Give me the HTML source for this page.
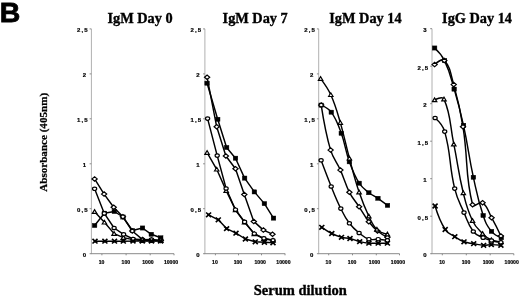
<!DOCTYPE html>
<html><head><meta charset="utf-8"><style>
html,body{margin:0;padding:0;background:#fff;}
body{width:520px;height:296px;overflow:hidden;position:relative;}
svg{position:absolute;left:0;top:0;filter:blur(0.3px);}
.ax{stroke:#8a8a8a;stroke-width:1;fill:none;}
.ay{stroke:#b0b0b0;stroke-width:1;fill:none;}
.ln{stroke:#000;stroke-width:1.45;fill:none;stroke-linejoin:round;}
.mo{stroke:#000;stroke-width:1.2;fill:#fff;}
.mf{fill:#000;stroke:#000;stroke-width:0.4;}
.mx{stroke:#000;stroke-width:1.65;fill:none;}
.yl{font:bold 6px "Liberation Sans",sans-serif;fill:#000;stroke:#000;stroke-width:0.2px;}
.xl{font:bold 5.1px "Liberation Sans",sans-serif;text-anchor:middle;fill:#000;stroke:#000;stroke-width:0.2px;}
.tt{font:bold 14.3px "Liberation Serif",serif;fill:#000;stroke:#000;stroke-width:0.35px;}
</style></head><body>
<svg width="520" height="296" viewBox="0 0 520 296">
<text x="-0.2" y="21.8" style="font:bold 28.5px 'Liberation Sans',sans-serif;fill:#000;stroke:#000;stroke-width:0.8px">B</text>
<text class="tt" x="107.5" y="22.5">IgM Day 0</text>
<text class="tt" x="222.6" y="22.5">IgM Day 7</text>
<text class="tt" x="329.3" y="22.5">IgM Day 14</text>
<text class="tt" x="442.1" y="22.5">IgG Day 14</text>
<text transform="translate(47.4,191.8) rotate(-90)" style="font:bold 11.1px 'Liberation Serif',serif;fill:#000;stroke:#000;stroke-width:0.25px">Absorbance (405nm)</text>
<text x="253.8" y="294.9" style="font:bold 14.5px 'Liberation Serif',serif;fill:#000;stroke:#000;stroke-width:0.35px">Serum dilution</text>
<path class="ay" d="M91.4,28.9 L91.4,253.7"/>
<path class="ax" d="M90.9,253.7 L174.0,253.7"/>
<path class="ax" d="M89.6,28.9 L91.4,28.9"/>
<text class="yl" x="76.90 81.40 84.20" y="32.3">2,5</text>
<path class="ax" d="M89.6,73.9 L91.4,73.9"/>
<text class="yl" x="82.70" y="77.3">2</text>
<path class="ax" d="M89.6,118.8 L91.4,118.8"/>
<text class="yl" x="76.90 81.40 84.20" y="122.2">1,5</text>
<path class="ax" d="M89.6,163.8 L91.4,163.8"/>
<text class="yl" x="82.70" y="167.2">1</text>
<path class="ax" d="M89.6,208.7 L91.4,208.7"/>
<text class="yl" x="76.90 81.40 84.20" y="212.1">0,5</text>
<path class="ax" d="M89.6,253.7 L91.4,253.7"/>
<text class="yl" x="82.70" y="257.1">0</text>
<path class="ax" d="M101.9,253.7 L101.9,255.3"/>
<text class="xl" x="101.5" y="263.7">10</text>
<path class="ax" d="M126.1,253.7 L126.1,255.3"/>
<text class="xl" x="125.8" y="263.7">100</text>
<path class="ax" d="M150.2,253.7 L150.2,255.3"/>
<text class="xl" x="147.9" y="263.7">1000</text>
<path class="ax" d="M174.0,253.7 L174.0,255.3"/>
<text class="xl" x="171.0" y="263.7">10000</text>
<path class="ln" d="M94.6,225.5 L104.4,213.2 L114.3,211.5 L123.0,217.0 L132.4,230.5 L142.5,228.0 L151.3,234.3 L160.7,237.8"/>
<path class="ln" d="M94.6,178.9 L104.1,194.1 L113.7,207.2 L122.9,216.8 L132.3,231.0 L142.6,239.6 L151.5,240.0 L160.8,240.6"/>
<path class="ln" d="M94.6,211.7 L104.4,222.3 L114.1,233.6 L123.4,237.6 L132.8,239.6 L142.4,240.6 L151.5,240.8 L160.8,240.8"/>
<path class="ln" d="M94.6,188.8 L104.3,213.4 L114.1,228.0 L123.6,234.4 L133.2,239.0 L142.5,239.8 L151.5,239.5 L160.8,240.5"/>
<path class="ln" d="M95.0,241.2 L104.9,241.2 L114.5,241.2 L123.3,241.2 L133.0,241.1 L142.3,241.0 L151.5,241.0 L160.6,241.0"/>
<rect class="mf" x="92.3" y="223.4" width="4.6" height="4.2"/>
<rect class="mf" x="102.1" y="211.1" width="4.6" height="4.2"/>
<rect class="mf" x="112.0" y="209.4" width="4.6" height="4.2"/>
<rect class="mf" x="120.7" y="214.9" width="4.6" height="4.2"/>
<rect class="mf" x="130.1" y="228.4" width="4.6" height="4.2"/>
<rect class="mf" x="140.2" y="225.9" width="4.6" height="4.2"/>
<rect class="mf" x="149.0" y="232.2" width="4.6" height="4.2"/>
<rect class="mf" x="158.4" y="235.7" width="4.6" height="4.2"/>
<path class="mo" d="M92.0,178.9 L94.6,176.7 L97.2,178.9 L94.6,181.1 Z"/>
<path class="mo" d="M101.5,194.1 L104.1,191.9 L106.7,194.1 L104.1,196.3 Z"/>
<path class="mo" d="M111.1,207.2 L113.7,205.0 L116.3,207.2 L113.7,209.4 Z"/>
<path class="mo" d="M120.3,216.8 L122.9,214.6 L125.5,216.8 L122.9,219.0 Z"/>
<path class="mo" d="M129.7,231.0 L132.3,228.8 L134.9,231.0 L132.3,233.2 Z"/>
<path class="mo" d="M140.0,239.6 L142.6,237.4 L145.2,239.6 L142.6,241.8 Z"/>
<path class="mo" d="M148.9,240.0 L151.5,237.8 L154.1,240.0 L151.5,242.2 Z"/>
<path class="mo" d="M158.2,240.6 L160.8,238.4 L163.4,240.6 L160.8,242.8 Z"/>
<path class="mo" d="M92.4,213.4 L94.6,209.7 L96.8,213.4 Z"/>
<path class="mo" d="M102.2,224.0 L104.4,220.3 L106.6,224.0 Z"/>
<path class="mo" d="M111.9,235.3 L114.1,231.6 L116.3,235.3 Z"/>
<path class="mo" d="M121.2,239.3 L123.4,235.6 L125.6,239.3 Z"/>
<path class="mo" d="M130.6,241.3 L132.8,237.6 L135.0,241.3 Z"/>
<path class="mo" d="M140.2,242.3 L142.4,238.6 L144.6,242.3 Z"/>
<path class="mo" d="M149.3,242.5 L151.5,238.8 L153.7,242.5 Z"/>
<path class="mo" d="M158.6,242.5 L160.8,238.8 L163.0,242.5 Z"/>
<ellipse class="mo" cx="94.6" cy="188.8" rx="2.1" ry="1.7"/>
<ellipse class="mo" cx="104.3" cy="213.4" rx="2.1" ry="1.7"/>
<ellipse class="mo" cx="114.1" cy="228.0" rx="2.1" ry="1.7"/>
<ellipse class="mo" cx="123.6" cy="234.4" rx="2.1" ry="1.7"/>
<ellipse class="mo" cx="133.2" cy="239.0" rx="2.1" ry="1.7"/>
<ellipse class="mo" cx="142.5" cy="239.8" rx="2.1" ry="1.7"/>
<ellipse class="mo" cx="151.5" cy="239.5" rx="2.1" ry="1.7"/>
<ellipse class="mo" cx="160.8" cy="240.5" rx="2.1" ry="1.7"/>
<path class="mx" d="M92.5,238.9 L97.5,243.5 M92.5,243.5 L97.5,238.9"/><rect x="93.7" y="240.0" width="2.6" height="2.4"/>
<path class="mx" d="M102.4,238.9 L107.4,243.5 M102.4,243.5 L107.4,238.9"/><rect x="103.6" y="240.0" width="2.6" height="2.4"/>
<path class="mx" d="M112.0,238.9 L117.0,243.5 M112.0,243.5 L117.0,238.9"/><rect x="113.2" y="240.0" width="2.6" height="2.4"/>
<path class="mx" d="M120.8,238.9 L125.8,243.5 M120.8,243.5 L125.8,238.9"/><rect x="122.0" y="240.0" width="2.6" height="2.4"/>
<path class="mx" d="M130.5,238.8 L135.5,243.4 M130.5,243.4 L135.5,238.8"/><rect x="131.7" y="239.9" width="2.6" height="2.4"/>
<path class="mx" d="M139.8,238.7 L144.8,243.3 M139.8,243.3 L144.8,238.7"/><rect x="141.0" y="239.8" width="2.6" height="2.4"/>
<path class="mx" d="M149.0,238.7 L154.0,243.3 M149.0,243.3 L154.0,238.7"/><rect x="150.2" y="239.8" width="2.6" height="2.4"/>
<path class="mx" d="M158.1,238.7 L163.1,243.3 M158.1,243.3 L163.1,238.7"/><rect x="159.3" y="239.8" width="2.6" height="2.4"/>
<path class="ay" d="M204.9,28.9 L204.9,253.7"/>
<path class="ax" d="M204.4,253.7 L285.2,253.7"/>
<path class="ax" d="M203.1,28.9 L204.9,28.9"/>
<text class="yl" x="190.40 194.90 197.70" y="32.3">2,5</text>
<path class="ax" d="M203.1,73.9 L204.9,73.9"/>
<text class="yl" x="196.20" y="77.3">2</text>
<path class="ax" d="M203.1,118.8 L204.9,118.8"/>
<text class="yl" x="190.40 194.90 197.70" y="122.2">1,5</text>
<path class="ax" d="M203.1,163.8 L204.9,163.8"/>
<text class="yl" x="196.20" y="167.2">1</text>
<path class="ax" d="M203.1,208.7 L204.9,208.7"/>
<text class="yl" x="190.40 194.90 197.70" y="212.1">0,5</text>
<path class="ax" d="M203.1,253.7 L204.9,253.7"/>
<text class="yl" x="196.20" y="257.1">0</text>
<path class="ax" d="M215.4,253.7 L215.4,255.3"/>
<text class="xl" x="214.9" y="263.7">10</text>
<path class="ax" d="M238.5,253.7 L238.5,255.3"/>
<text class="xl" x="237.9" y="263.7">100</text>
<path class="ax" d="M261.5,253.7 L261.5,255.3"/>
<text class="xl" x="260.2" y="263.7">1000</text>
<path class="ax" d="M285.0,253.7 L285.0,255.3"/>
<text class="xl" x="283.4" y="263.7">10000</text>
<path class="ln" d="M207.1,83.2 L217.7,119.3 L226.6,147.5 L235.5,158.2 L244.6,178.1 L254.4,191.9 L264.4,203.6 L273.5,218.1"/>
<path class="ln" d="M207.1,77.3 L216.7,126.8 L225.9,156.0 L235.5,168.8 L244.3,194.4 L253.8,221.4 L263.4,230.1 L272.5,234.2"/>
<path class="ln" d="M207.1,152.6 L216.7,169.3 L226.2,190.6 L235.5,210.0 L244.6,222.2 L254.3,233.9 L263.9,238.8 L273.0,240.4"/>
<path class="ln" d="M207.6,118.6 L217.2,155.6 L226.1,188.5 L235.5,209.7 L244.6,221.9 L254.3,233.7 L263.9,238.3 L273.0,240.3"/>
<path class="ln" d="M208.6,214.8 L218.3,219.8 L226.6,228.6 L236.0,233.2 L245.4,239.0 L255.3,241.8 L264.4,242.3 L273.0,242.8"/>
<rect class="mf" x="204.8" y="81.1" width="4.6" height="4.2"/>
<rect class="mf" x="215.4" y="117.2" width="4.6" height="4.2"/>
<rect class="mf" x="224.3" y="145.4" width="4.6" height="4.2"/>
<rect class="mf" x="233.2" y="156.1" width="4.6" height="4.2"/>
<rect class="mf" x="242.3" y="176.0" width="4.6" height="4.2"/>
<rect class="mf" x="252.1" y="189.8" width="4.6" height="4.2"/>
<rect class="mf" x="262.1" y="201.5" width="4.6" height="4.2"/>
<rect class="mf" x="271.2" y="216.0" width="4.6" height="4.2"/>
<path class="mo" d="M204.5,77.3 L207.1,75.1 L209.7,77.3 L207.1,79.5 Z"/>
<path class="mo" d="M214.1,126.8 L216.7,124.6 L219.3,126.8 L216.7,129.0 Z"/>
<path class="mo" d="M223.3,156.0 L225.9,153.8 L228.5,156.0 L225.9,158.2 Z"/>
<path class="mo" d="M232.9,168.8 L235.5,166.6 L238.1,168.8 L235.5,171.0 Z"/>
<path class="mo" d="M241.7,194.4 L244.3,192.2 L246.9,194.4 L244.3,196.6 Z"/>
<path class="mo" d="M251.2,221.4 L253.8,219.2 L256.4,221.4 L253.8,223.6 Z"/>
<path class="mo" d="M260.8,230.1 L263.4,227.9 L266.0,230.1 L263.4,232.3 Z"/>
<path class="mo" d="M269.9,234.2 L272.5,232.0 L275.1,234.2 L272.5,236.4 Z"/>
<path class="mo" d="M204.9,154.3 L207.1,150.6 L209.3,154.3 Z"/>
<path class="mo" d="M214.5,171.0 L216.7,167.3 L218.9,171.0 Z"/>
<path class="mo" d="M224.0,192.3 L226.2,188.6 L228.4,192.3 Z"/>
<path class="mo" d="M233.3,211.7 L235.5,208.0 L237.7,211.7 Z"/>
<path class="mo" d="M242.4,223.9 L244.6,220.2 L246.8,223.9 Z"/>
<path class="mo" d="M252.1,235.6 L254.3,231.9 L256.5,235.6 Z"/>
<path class="mo" d="M261.7,240.5 L263.9,236.8 L266.1,240.5 Z"/>
<path class="mo" d="M270.8,242.1 L273.0,238.4 L275.2,242.1 Z"/>
<ellipse class="mo" cx="207.6" cy="118.6" rx="2.1" ry="1.7"/>
<ellipse class="mo" cx="217.2" cy="155.6" rx="2.1" ry="1.7"/>
<ellipse class="mo" cx="226.1" cy="188.5" rx="2.1" ry="1.7"/>
<ellipse class="mo" cx="235.5" cy="209.7" rx="2.1" ry="1.7"/>
<ellipse class="mo" cx="244.6" cy="221.9" rx="2.1" ry="1.7"/>
<ellipse class="mo" cx="254.3" cy="233.7" rx="2.1" ry="1.7"/>
<ellipse class="mo" cx="263.9" cy="238.3" rx="2.1" ry="1.7"/>
<ellipse class="mo" cx="273.0" cy="240.3" rx="2.1" ry="1.7"/>
<path class="mx" d="M206.1,212.5 L211.1,217.1 M206.1,217.1 L211.1,212.5"/><rect x="207.3" y="213.6" width="2.6" height="2.4"/>
<path class="mx" d="M215.8,217.5 L220.8,222.1 M215.8,222.1 L220.8,217.5"/><rect x="217.0" y="218.6" width="2.6" height="2.4"/>
<path class="mx" d="M224.1,226.3 L229.1,230.9 M224.1,230.9 L229.1,226.3"/><rect x="225.3" y="227.4" width="2.6" height="2.4"/>
<path class="mx" d="M233.5,230.9 L238.5,235.5 M233.5,235.5 L238.5,230.9"/><rect x="234.7" y="232.0" width="2.6" height="2.4"/>
<path class="mx" d="M242.9,236.7 L247.9,241.3 M242.9,241.3 L247.9,236.7"/><rect x="244.1" y="237.8" width="2.6" height="2.4"/>
<path class="mx" d="M252.8,239.5 L257.8,244.1 M252.8,244.1 L257.8,239.5"/><rect x="254.0" y="240.6" width="2.6" height="2.4"/>
<path class="mx" d="M261.9,240.0 L266.9,244.6 M261.9,244.6 L266.9,240.0"/><rect x="263.1" y="241.1" width="2.6" height="2.4"/>
<path class="mx" d="M270.5,240.5 L275.5,245.1 M270.5,245.1 L275.5,240.5"/><rect x="271.7" y="241.6" width="2.6" height="2.4"/>
<path class="ay" d="M318.7,28.9 L318.7,253.7"/>
<path class="ax" d="M318.2,253.7 L399.5,253.7"/>
<path class="ax" d="M316.9,28.9 L318.7,28.9"/>
<text class="yl" x="304.20 308.70 311.50" y="32.3">2,5</text>
<path class="ax" d="M316.9,73.9 L318.7,73.9"/>
<text class="yl" x="310.00" y="77.3">2</text>
<path class="ax" d="M316.9,118.8 L318.7,118.8"/>
<text class="yl" x="304.20 308.70 311.50" y="122.2">1,5</text>
<path class="ax" d="M316.9,163.8 L318.7,163.8"/>
<text class="yl" x="310.00" y="167.2">1</text>
<path class="ax" d="M316.9,208.7 L318.7,208.7"/>
<text class="yl" x="304.20 308.70 311.50" y="212.1">0,5</text>
<path class="ax" d="M316.9,253.7 L318.7,253.7"/>
<text class="yl" x="310.00" y="257.1">0</text>
<path class="ax" d="M328.7,253.7 L328.7,255.3"/>
<text class="xl" x="328.4" y="263.7">10</text>
<path class="ax" d="M352.5,253.7 L352.5,255.3"/>
<text class="xl" x="352.1" y="263.7">100</text>
<path class="ax" d="M376.3,253.7 L376.3,255.3"/>
<text class="xl" x="374.5" y="263.7">1000</text>
<path class="ax" d="M399.5,253.7 L399.5,255.3"/>
<text class="xl" x="397.9" y="263.7">10000</text>
<path class="ln" d="M321.2,105.1 C321.2,105.1 328.5,108.3 331.3,112.2 C336.6,119.6 338.1,124.6 341.3,133.3 C345.3,144.4 345.4,150.7 349.4,161.8 C352.6,170.6 354.3,175.3 359.2,183.2 C362.0,187.7 364.6,189.3 368.8,192.7 C372.1,195.4 374.4,195.9 377.9,198.3 C381.8,201.0 387.5,205.4 387.5,205.4"/>
<path class="ln" d="M321.2,105.1 C321.2,105.1 325.4,132.6 330.6,150.1 C333.1,158.6 336.8,162.0 340.4,170.1 C344.3,178.8 345.1,183.8 349.4,192.3 C352.6,198.5 355.3,201.0 359.1,206.8 C363.0,212.7 364.5,216.1 368.8,221.7 C371.9,225.7 373.6,227.8 377.5,231.0 C381.1,234.0 387.4,237.3 387.4,237.3"/>
<path class="ln" d="M320.6,78.6 C320.6,78.6 327.7,87.9 330.8,94.8 C335.6,105.5 337.0,111.3 340.3,122.6 C344.4,136.7 345.6,144.1 349.4,158.3 C353.1,171.9 354.6,178.8 359.1,192.1 C362.4,201.9 364.3,206.9 368.8,216.2 C371.5,221.8 372.6,225.3 376.9,229.4 C380.1,232.5 387.4,234.2 387.4,234.2"/>
<path class="ln" d="M321.1,160.3 C321.1,160.3 327.0,176.1 331.2,186.5 C334.8,195.4 336.5,200.0 340.8,208.6 C343.8,214.7 345.3,217.9 349.4,223.3 C352.7,227.7 354.9,229.6 359.1,233.0 C362.7,235.9 364.7,237.8 368.9,239.2 C372.3,240.3 374.5,239.0 378.2,239.2 C381.9,239.4 387.4,240.4 387.4,240.4"/>
<path class="ln" d="M321.8,227.3 C321.8,227.3 327.6,231.4 331.8,233.5 C335.5,235.4 337.5,236.2 341.5,237.3 C344.8,238.2 346.7,237.7 350.0,238.5 C354.0,239.4 355.8,240.6 359.7,241.6 C363.3,242.5 365.2,242.9 368.9,243.2 C372.6,243.5 374.5,243.2 378.2,243.2 C381.9,243.2 387.4,243.2 387.4,243.2"/>
<rect class="mf" x="318.9" y="103.0" width="4.6" height="4.2"/>
<rect class="mf" x="329.0" y="110.1" width="4.6" height="4.2"/>
<rect class="mf" x="339.0" y="131.2" width="4.6" height="4.2"/>
<rect class="mf" x="347.1" y="159.7" width="4.6" height="4.2"/>
<rect class="mf" x="356.9" y="181.1" width="4.6" height="4.2"/>
<rect class="mf" x="366.5" y="190.6" width="4.6" height="4.2"/>
<rect class="mf" x="375.6" y="196.2" width="4.6" height="4.2"/>
<rect class="mf" x="385.2" y="203.3" width="4.6" height="4.2"/>
<path class="mo" d="M318.6,105.1 L321.2,102.9 L323.8,105.1 L321.2,107.3 Z"/>
<path class="mo" d="M328.0,150.1 L330.6,147.9 L333.2,150.1 L330.6,152.3 Z"/>
<path class="mo" d="M337.8,170.1 L340.4,167.9 L343.0,170.1 L340.4,172.3 Z"/>
<path class="mo" d="M346.8,192.3 L349.4,190.1 L352.0,192.3 L349.4,194.5 Z"/>
<path class="mo" d="M356.5,206.8 L359.1,204.6 L361.7,206.8 L359.1,209.0 Z"/>
<path class="mo" d="M366.2,221.7 L368.8,219.5 L371.4,221.7 L368.8,223.9 Z"/>
<path class="mo" d="M374.9,231.0 L377.5,228.8 L380.1,231.0 L377.5,233.2 Z"/>
<path class="mo" d="M384.8,237.3 L387.4,235.1 L390.0,237.3 L387.4,239.5 Z"/>
<path class="mo" d="M318.4,80.3 L320.6,76.6 L322.8,80.3 Z"/>
<path class="mo" d="M328.6,96.5 L330.8,92.8 L333.0,96.5 Z"/>
<path class="mo" d="M338.1,124.3 L340.3,120.6 L342.5,124.3 Z"/>
<path class="mo" d="M347.2,160.0 L349.4,156.3 L351.6,160.0 Z"/>
<path class="mo" d="M356.9,193.8 L359.1,190.1 L361.3,193.8 Z"/>
<path class="mo" d="M366.6,217.9 L368.8,214.2 L371.0,217.9 Z"/>
<path class="mo" d="M374.7,231.1 L376.9,227.4 L379.1,231.1 Z"/>
<path class="mo" d="M385.2,235.9 L387.4,232.2 L389.6,235.9 Z"/>
<ellipse class="mo" cx="321.1" cy="160.3" rx="2.1" ry="1.7"/>
<ellipse class="mo" cx="331.2" cy="186.5" rx="2.1" ry="1.7"/>
<ellipse class="mo" cx="340.8" cy="208.6" rx="2.1" ry="1.7"/>
<ellipse class="mo" cx="349.4" cy="223.3" rx="2.1" ry="1.7"/>
<ellipse class="mo" cx="359.1" cy="233.0" rx="2.1" ry="1.7"/>
<ellipse class="mo" cx="368.9" cy="239.2" rx="2.1" ry="1.7"/>
<ellipse class="mo" cx="378.2" cy="239.2" rx="2.1" ry="1.7"/>
<ellipse class="mo" cx="387.4" cy="240.4" rx="2.1" ry="1.7"/>
<path class="mx" d="M319.3,225.0 L324.3,229.6 M319.3,229.6 L324.3,225.0"/><rect x="320.5" y="226.1" width="2.6" height="2.4"/>
<path class="mx" d="M329.3,231.2 L334.3,235.8 M329.3,235.8 L334.3,231.2"/><rect x="330.5" y="232.3" width="2.6" height="2.4"/>
<path class="mx" d="M339.0,235.0 L344.0,239.6 M339.0,239.6 L344.0,235.0"/><rect x="340.2" y="236.1" width="2.6" height="2.4"/>
<path class="mx" d="M347.5,236.2 L352.5,240.8 M347.5,240.8 L352.5,236.2"/><rect x="348.7" y="237.3" width="2.6" height="2.4"/>
<path class="mx" d="M357.2,239.3 L362.2,243.9 M357.2,243.9 L362.2,239.3"/><rect x="358.4" y="240.4" width="2.6" height="2.4"/>
<path class="mx" d="M366.4,240.9 L371.4,245.5 M366.4,245.5 L371.4,240.9"/><rect x="367.6" y="242.0" width="2.6" height="2.4"/>
<path class="mx" d="M375.7,240.9 L380.7,245.5 M375.7,245.5 L380.7,240.9"/><rect x="376.9" y="242.0" width="2.6" height="2.4"/>
<path class="mx" d="M384.9,240.9 L389.9,245.5 M384.9,245.5 L389.9,240.9"/><rect x="386.1" y="242.0" width="2.6" height="2.4"/>
<path class="ay" d="M432.0,28.7 L432.0,253.7"/>
<path class="ax" d="M431.5,253.7 L513.8,253.7"/>
<path class="ax" d="M430.2,28.7 L432.0,28.7"/>
<text class="yl" x="423.30" y="32.1">3</text>
<path class="ax" d="M430.2,66.2 L432.0,66.2"/>
<text class="yl" x="417.50 422.00 424.80" y="69.6">2,5</text>
<path class="ax" d="M430.2,103.7 L432.0,103.7"/>
<text class="yl" x="423.30" y="107.1">2</text>
<path class="ax" d="M430.2,141.2 L432.0,141.2"/>
<text class="yl" x="417.50 422.00 424.80" y="144.6">1,5</text>
<path class="ax" d="M430.2,178.7 L432.0,178.7"/>
<text class="yl" x="423.30" y="182.1">1</text>
<path class="ax" d="M430.2,216.2 L432.0,216.2"/>
<text class="yl" x="417.50 422.00 424.80" y="219.6">0,5</text>
<path class="ax" d="M430.2,253.7 L432.0,253.7"/>
<text class="yl" x="423.30" y="257.1">0</text>
<path class="ax" d="M442.3,253.7 L442.3,255.3"/>
<text class="xl" x="442.1" y="263.7">10</text>
<path class="ax" d="M466.3,253.7 L466.3,255.3"/>
<text class="xl" x="466.0" y="263.7">100</text>
<path class="ax" d="M490.2,253.7 L490.2,255.3"/>
<text class="xl" x="488.3" y="263.7">1000</text>
<path class="ax" d="M513.8,253.7 L513.8,255.3"/>
<text class="xl" x="511.7" y="263.7">10000</text>
<path class="ln" d="M434.6,48.0 C434.6,48.0 441.4,54.2 444.5,60.6 C450.3,72.7 450.4,76.1 454.2,89.1 C458.9,105.2 459.9,108.9 463.5,125.3 C468.6,148.6 468.3,154.0 473.4,177.3 C477.2,194.6 477.6,198.8 483.2,215.5 C485.7,223.1 486.6,225.3 491.5,231.4 C494.7,235.3 501.3,237.7 501.3,237.7"/>
<path class="ln" d="M434.6,64.6 C434.6,64.6 441.8,57.9 444.3,60.5 C450.4,66.9 450.5,73.4 453.7,84.6 C459.0,103.3 460.0,107.6 463.0,126.8 C468.5,161.7 464.8,174.4 472.6,204.7 C473.6,208.6 479.4,200.6 482.6,202.8 C488.0,206.5 487.8,210.8 491.6,217.7 C496.1,225.8 500.9,236.0 500.9,236.0"/>
<path class="ln" d="M434.6,99.9 C434.6,99.9 442.5,95.7 444.0,99.1 C451.2,115.7 449.6,123.9 453.8,144.2 C458.3,166.1 458.0,171.3 463.3,193.0 C466.4,205.7 466.9,209.0 472.5,220.7 C475.6,227.3 477.5,228.4 482.6,233.7 C485.9,237.1 487.0,238.0 491.3,240.0 C495.2,241.8 500.9,242.0 500.9,242.0"/>
<path class="ln" d="M435.1,118.0 C435.1,118.0 442.7,124.5 444.7,131.6 C451.5,156.3 448.7,163.4 454.7,188.6 C457.4,199.8 459.4,202.0 464.0,212.6 C467.8,221.3 467.8,224.2 473.3,231.5 C476.4,235.5 478.5,235.4 483.1,237.7 C486.6,239.5 487.7,239.5 491.5,240.5 C495.7,241.6 500.9,242.3 500.9,242.3"/>
<path class="ln" d="M435.1,206.0 C435.1,206.0 439.2,220.1 445.2,229.5 C448.0,233.9 450.3,233.8 454.8,236.7 C458.8,239.3 459.6,240.2 464.0,241.8 C468.1,243.3 469.3,242.9 473.7,243.7 C478.1,244.5 479.1,245.1 483.6,245.3 C487.0,245.5 487.8,244.6 491.3,244.6 C495.6,244.6 500.9,245.3 500.9,245.3"/>
<rect class="mf" x="432.3" y="45.9" width="4.6" height="4.2"/>
<rect class="mf" x="442.2" y="58.5" width="4.6" height="4.2"/>
<rect class="mf" x="451.9" y="87.0" width="4.6" height="4.2"/>
<rect class="mf" x="461.2" y="123.2" width="4.6" height="4.2"/>
<rect class="mf" x="471.1" y="175.2" width="4.6" height="4.2"/>
<rect class="mf" x="480.9" y="213.4" width="4.6" height="4.2"/>
<rect class="mf" x="489.2" y="229.3" width="4.6" height="4.2"/>
<rect class="mf" x="499.0" y="235.6" width="4.6" height="4.2"/>
<path class="mo" d="M432.0,64.6 L434.6,62.4 L437.2,64.6 L434.6,66.8 Z"/>
<path class="mo" d="M441.7,60.5 L444.3,58.3 L446.9,60.5 L444.3,62.7 Z"/>
<path class="mo" d="M451.1,84.6 L453.7,82.4 L456.3,84.6 L453.7,86.8 Z"/>
<path class="mo" d="M460.4,126.8 L463.0,124.6 L465.6,126.8 L463.0,129.0 Z"/>
<path class="mo" d="M470.0,204.7 L472.6,202.5 L475.2,204.7 L472.6,206.9 Z"/>
<path class="mo" d="M480.0,202.8 L482.6,200.6 L485.2,202.8 L482.6,205.0 Z"/>
<path class="mo" d="M489.0,217.7 L491.6,215.5 L494.2,217.7 L491.6,219.9 Z"/>
<path class="mo" d="M498.3,236.0 L500.9,233.8 L503.5,236.0 L500.9,238.2 Z"/>
<path class="mo" d="M432.4,101.6 L434.6,97.9 L436.8,101.6 Z"/>
<path class="mo" d="M441.8,100.8 L444.0,97.1 L446.2,100.8 Z"/>
<path class="mo" d="M451.6,145.9 L453.8,142.2 L456.0,145.9 Z"/>
<path class="mo" d="M461.1,194.7 L463.3,191.0 L465.5,194.7 Z"/>
<path class="mo" d="M470.3,222.4 L472.5,218.7 L474.7,222.4 Z"/>
<path class="mo" d="M480.4,235.4 L482.6,231.7 L484.8,235.4 Z"/>
<path class="mo" d="M489.1,241.7 L491.3,238.0 L493.5,241.7 Z"/>
<path class="mo" d="M498.7,243.7 L500.9,240.0 L503.1,243.7 Z"/>
<ellipse class="mo" cx="435.1" cy="118.0" rx="2.1" ry="1.7"/>
<ellipse class="mo" cx="444.7" cy="131.6" rx="2.1" ry="1.7"/>
<ellipse class="mo" cx="454.7" cy="188.6" rx="2.1" ry="1.7"/>
<ellipse class="mo" cx="464.0" cy="212.6" rx="2.1" ry="1.7"/>
<ellipse class="mo" cx="473.3" cy="231.5" rx="2.1" ry="1.7"/>
<ellipse class="mo" cx="483.1" cy="237.7" rx="2.1" ry="1.7"/>
<ellipse class="mo" cx="491.5" cy="240.5" rx="2.1" ry="1.7"/>
<ellipse class="mo" cx="500.9" cy="242.3" rx="2.1" ry="1.7"/>
<path class="mx" d="M432.6,203.7 L437.6,208.3 M432.6,208.3 L437.6,203.7"/><rect x="433.8" y="204.8" width="2.6" height="2.4"/>
<path class="mx" d="M442.7,227.2 L447.7,231.8 M442.7,231.8 L447.7,227.2"/><rect x="443.9" y="228.3" width="2.6" height="2.4"/>
<path class="mx" d="M452.3,234.4 L457.3,239.0 M452.3,239.0 L457.3,234.4"/><rect x="453.5" y="235.5" width="2.6" height="2.4"/>
<path class="mx" d="M461.5,239.5 L466.5,244.1 M461.5,244.1 L466.5,239.5"/><rect x="462.7" y="240.6" width="2.6" height="2.4"/>
<path class="mx" d="M471.2,241.4 L476.2,246.0 M471.2,246.0 L476.2,241.4"/><rect x="472.4" y="242.5" width="2.6" height="2.4"/>
<path class="mx" d="M481.1,243.0 L486.1,247.6 M481.1,247.6 L486.1,243.0"/><rect x="482.3" y="244.1" width="2.6" height="2.4"/>
<path class="mx" d="M488.8,242.3 L493.8,246.9 M488.8,246.9 L493.8,242.3"/><rect x="490.0" y="243.4" width="2.6" height="2.4"/>
<path class="mx" d="M498.4,243.0 L503.4,247.6 M498.4,247.6 L503.4,243.0"/><rect x="499.6" y="244.1" width="2.6" height="2.4"/>
</svg>
</body></html>
